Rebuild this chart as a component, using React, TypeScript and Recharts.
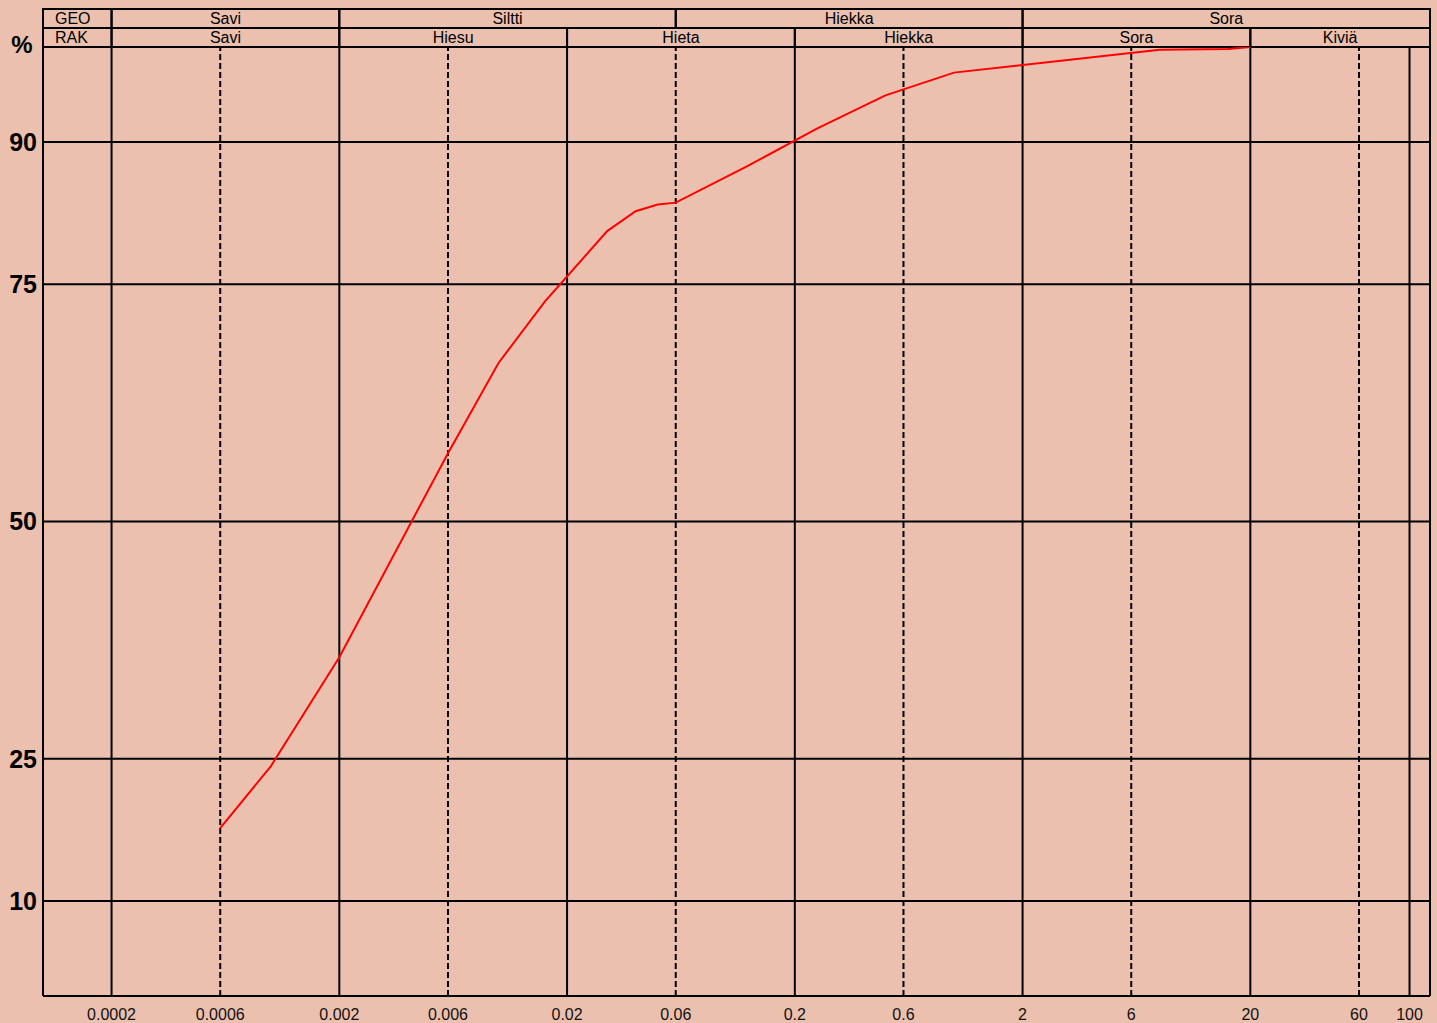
import React from "react";
import {
  LineChart,
  Line,
  XAxis,
  YAxis,
  ReferenceLine,
  ReferenceArea,
  Label,
} from "recharts";

const BG = "#EBC0AE";
const INK = "#000000";
const CURVE = "#FF0000";

// raekoko (mm) ja läpäisy (%)
const grainSizeMm = [0.0006, 0.001, 0.002, 0.006, 0.01, 0.016, 0.03, 0.04, 0.05, 0.06, 0.125, 0.25, 0.5, 1, 8, 16, 20];
const passingPct = [17.7, 24.2, 35.7, 57.2, 66.7, 73.2, 80.6, 82.7, 83.4, 83.6, 87.5, 91.4, 94.9, 97.3, 99.7, 99.8, 100];

const sizeTicks = [0.0002, 0.0006, 0.002, 0.006, 0.02, 0.06, 0.2, 0.6, 2, 6, 20, 60, 100];
const solidSizes = [0.0002, 0.002, 0.02, 0.2, 2, 20, 100];
const dashedSizes = [0.0006, 0.006, 0.06, 0.6, 6, 60];
const percentTicks = [10, 25, 50, 75, 90];

const SIZE_MIN = 0.0001;
const SIZE_MAX = 123;

// luokitusrivit: GEO ja RAK
const geoNames = ["Savi", "Siltti", "Hiekka", "Sora"];
const geoLimits = [0.0002, 0.002, 0.06, 2, SIZE_MAX];
const rakNames = ["Savi", "Hiesu", "Hieta", "Hiekka", "Sora", "Kiviä"];
const rakLimits = [0.0002, 0.002, 0.02, 0.2, 2, 20, SIZE_MAX];

const data = grainSizeMm.map((d, i) => ({ d, p: passingPct[i] }));

document.body.style.margin = "0";
document.body.style.background = BG;

const cellLabel = (value: string) => ({ value, position: "center" as const, fill: INK, fontSize: 16 });

export default function App() {
  return (
    <div style={{ width: 1437, height: 1023, background: BG, fontFamily: "'Liberation Sans', Arial, sans-serif" }}>
      <LineChart width={1437} height={1023} data={data} margin={{ top: 47, right: 7, bottom: 0, left: 0 }}>
        <XAxis
          dataKey="d"
          type="number"
          scale="log"
          domain={[SIZE_MIN, SIZE_MAX]}
          allowDataOverflow
          ticks={sizeTicks}
          interval={0}
          tickFormatter={(v: number) => String(v)}
          height={27}
          tickLine={false}
          tickSize={6}
          tickMargin={7}
          axisLine={{ stroke: INK, strokeWidth: 2 }}
          tick={{ fill: "#111", fontSize: 16 }}
        />
        <YAxis
          type="number"
          domain={[0, 100]}
          allowDataOverflow
          ticks={percentTicks}
          interval={0}
          width={43}
          tickLine={false}
          tickSize={6}
          tickMargin={0}
          axisLine={{ stroke: INK, strokeWidth: 2 }}
          tick={{ fill: INK, fontSize: 25, fontWeight: 700 }}
        >
          <Label
            content={() => (
              <text x={22} y={53} textAnchor="middle" fill={INK} fontSize={24} fontWeight={700}>
                %
              </text>
            )}
          />
        </YAxis>

        {percentTicks.map((p) => (
          <ReferenceLine key={`h-${p}`} y={p} stroke={INK} strokeWidth={2} />
        ))}
        {solidSizes.map((s) => (
          <ReferenceLine key={`vs-${s}`} x={s} stroke={INK} strokeWidth={2} />
        ))}
        {dashedSizes.map((s) => (
          <ReferenceLine key={`vd-${s}`} x={s} stroke={INK} strokeWidth={2} strokeDasharray="6 3" />
        ))}
        <ReferenceLine x={SIZE_MAX} stroke={INK} strokeWidth={2} />

        {/* otsikkotaulukko kuvaajan yläpuolella */}
        <ReferenceArea
          x1={SIZE_MIN}
          x2={geoLimits[0]}
          y1={102}
          y2={104}
          ifOverflow="visible"
          fill="none"
          stroke={INK}
          strokeWidth={2}
          label={{ value: "GEO", position: "insideLeft", offset: 12, fill: INK, fontSize: 16 }}
        />
        {geoNames.map((name, i) => (
          <ReferenceArea
            key={`geo-${i}`}
            x1={geoLimits[i]}
            x2={geoLimits[i + 1]}
            y1={102}
            y2={104}
            ifOverflow="visible"
            fill="none"
            stroke={INK}
            strokeWidth={2}
            label={cellLabel(name)}
          />
        ))}
        <ReferenceArea
          x1={SIZE_MIN}
          x2={rakLimits[0]}
          y1={100}
          y2={102}
          ifOverflow="visible"
          fill="none"
          stroke={INK}
          strokeWidth={2}
          label={{ value: "RAK", position: "insideLeft", offset: 12, fill: INK, fontSize: 16 }}
        />
        {rakNames.map((name, i) => (
          <ReferenceArea
            key={`rak-${i}`}
            x1={rakLimits[i]}
            x2={rakLimits[i + 1]}
            y1={100}
            y2={102}
            ifOverflow="visible"
            fill="none"
            stroke={INK}
            strokeWidth={2}
            label={cellLabel(name)}
          />
        ))}

        <Line
          type="linear"
          dataKey="p"
          stroke={CURVE}
          strokeWidth={2}
          dot={false}
          activeDot={false}
          isAnimationActive={false}
        />
      </LineChart>
    </div>
  );
}
